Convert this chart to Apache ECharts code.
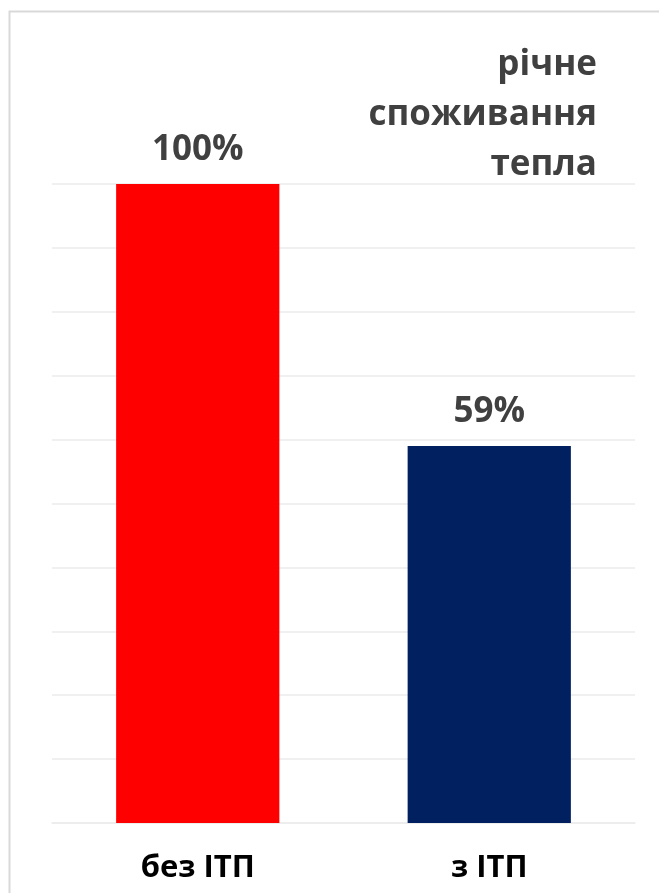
<!DOCTYPE html>
<html><head><meta charset="utf-8">
<script src="https://cdn.jsdelivr.net/npm/echarts@6/dist/echarts.min.js"></script>
<style>html,body{margin:0;padding:0;background:#fff}#c{width:659px;height:893px}</style>
</head><body><div id="c"></div>
<script>
const categories = ['без ІТП', 'з ІТП'];
const values = [100, 59];
const barColors = ['#ff0000', '#002060'];
const titleLines = ['річне', 'споживання', 'тепла'];

const chart = echarts.init(document.getElementById('c'), null, {renderer: 'canvas'});
chart.setOption({
  animation: false,
  backgroundColor: '#fff',
  grid: {left: 52, right: 24, top: 184, bottom: 70},
  graphic: [{
    type: 'rect', shape: {x: 9.5, y: 11.5, width: 700, height: 950},
    style: {fill: 'none', stroke: '#d9d9d9', lineWidth: 2}, silent: true
  }, {
    type: 'text', x: 597, y: 40, silent: true,
    style: {
      text: titleLines.join('\n'), align: 'right', verticalAlign: 'top',
      fontFamily: 'Open Sans', fontWeight: 'bold', fontSize: 35, lineHeight: 50, fill: '#404040'
    }
  }],
  xAxis: {
    type: 'category', data: categories,
    axisTick: {show: false},
    axisLine: {lineStyle: {color: '#ebebeb', width: 1.5}},
    axisLabel: {margin: 30, fontFamily: 'Open Sans', fontWeight: 'bold', fontSize: 31, color: '#000'}
  },
  yAxis: {
    type: 'value', min: 0, max: 100, interval: 10,
    axisLabel: {show: false}, axisLine: {show: false}, axisTick: {show: false},
    splitLine: {lineStyle: {color: '#ebebeb', width: 1.5}}
  },
  series: [{
    type: 'bar',
    data: values.map((v, i) => ({value: v, itemStyle: {color: barColors[i]}})),
    barWidth: '56%',
    label: {
      show: true, position: 'top', distance: 16,
      formatter: p => p.value + '%',
      fontFamily: 'Open Sans', fontWeight: 'bold', fontSize: 35, color: '#404040'
    }
  }]
});
</script></body></html>
